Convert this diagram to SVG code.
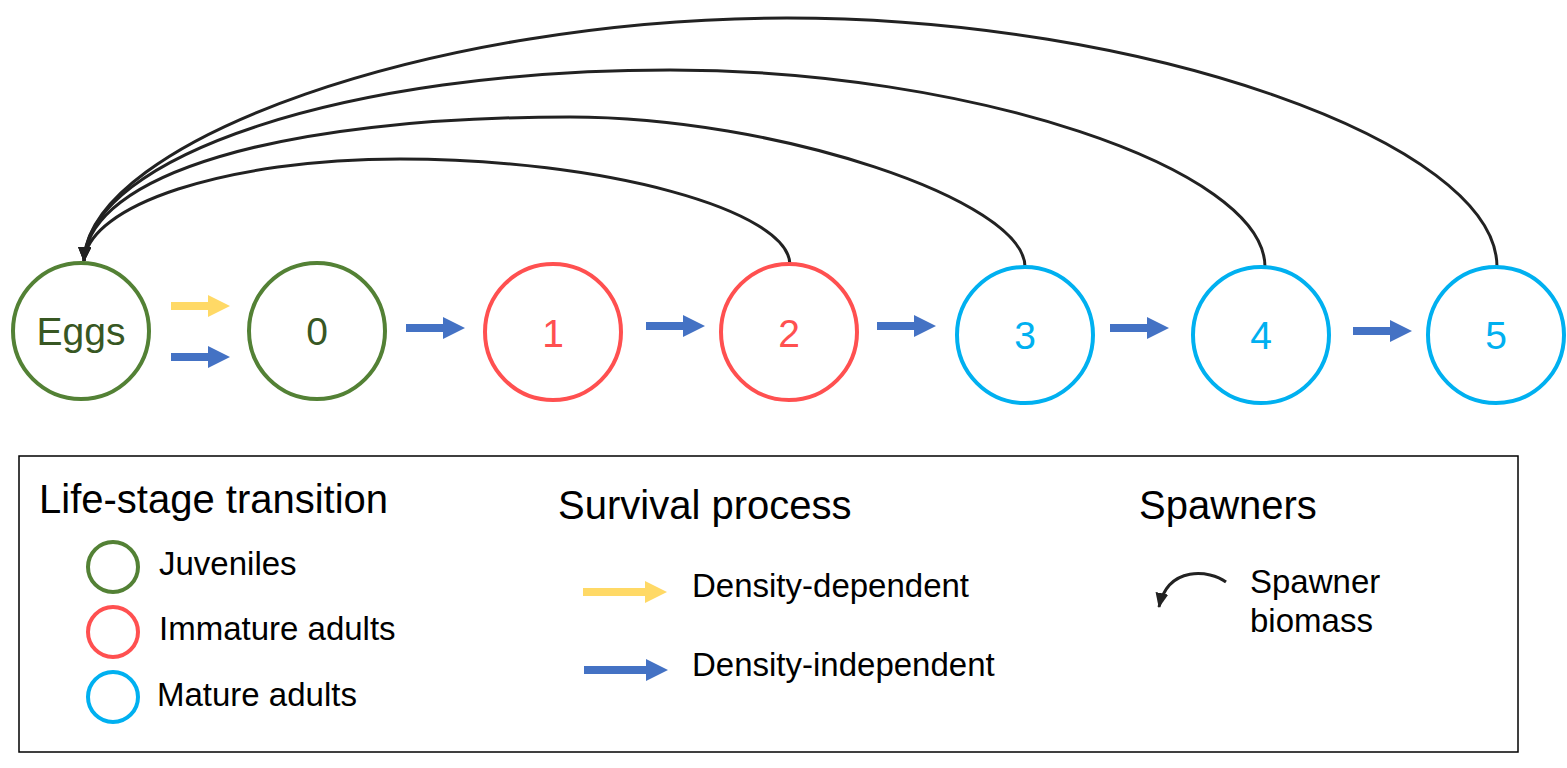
<svg xmlns="http://www.w3.org/2000/svg" width="1567" height="768" viewBox="0 0 1567 768">
<style>
text{font-family:"Liberation Sans",Arial,sans-serif;}
.node{fill:#fff;stroke-width:4;}
.g{stroke:#538135;}
.r{stroke:#FF5050;}
.b{stroke:#00B0F0;}
.nt{font-size:39px;text-anchor:middle;}
.spawn{fill:none;stroke:#222;stroke-width:3;marker-end:url(#ah);}
.title{font-size:40px;fill:#000;}
.item{font-size:33px;fill:#000;}
.yel{fill:#FFD966;}
.blu{fill:#4472C4;}
</style>
<defs>
<marker id="ah" markerUnits="userSpaceOnUse" markerWidth="16" markerHeight="14" refX="14" refY="6.5" orient="auto" viewBox="0 0 16 14">
<path d="M0,0 L15,6.5 L0,13 z" fill="#222"/>
</marker>
<path id="arr" d="M0,-4 L37,-4 L37,-11 L59,0 L37,11 L37,4 L0,4 z"/>
<path id="arrL" d="M0,-4 L62,-4 L62,-11 L84,0 L62,11 L62,4 L0,4 z"/>
</defs>

<g id="connectors">
<path class="spawn" d="M790,265 C790,210 603,159 400,159 C226,159 88,205 84,261"/>
<path class="spawn" d="M1025,267 C1025,200 775,117 570,117 C278,117 88,175 84,261"/>
<path class="spawn" d="M1265,267 C1265,168 968,70 670,70 C347,70 88,156 84,261"/>
<path class="spawn" d="M1497,267 C1497,142 1142,18 787,18 C436,18 88,140 84,261"/>
<use href="#arr" class="yel" x="171" y="306"/>
<use href="#arr" class="blu" x="171" y="357"/>
<use href="#arr" class="blu" x="406" y="328"/>
<use href="#arr" class="blu" x="646" y="326"/>
<use href="#arr" class="blu" x="877" y="326"/>
<use href="#arr" class="blu" x="1110" y="328"/>
<use href="#arr" class="blu" x="1353" y="331"/>
</g>

<g id="node-eggs">
<circle class="node g" cx="81" cy="331" r="68"/>
<text class="nt" x="81" y="345" fill="#385723">Eggs</text>
</g>
<g id="node-0">
<circle class="node g" cx="317" cy="331" r="68"/>
<text class="nt" x="317" y="345" fill="#385723">0</text>
</g>
<g id="node-1">
<circle class="node r" cx="553" cy="332" r="68"/>
<text class="nt" x="553" y="347" fill="#FF5050">1</text>
</g>
<g id="node-2">
<circle class="node r" cx="789" cy="332" r="68"/>
<text class="nt" x="789" y="347" fill="#FF5050">2</text>
</g>
<g id="node-3">
<circle class="node b" cx="1025" cy="335" r="68"/>
<text class="nt" x="1025" y="349" fill="#00B0F0">3</text>
</g>
<g id="node-4">
<circle class="node b" cx="1261" cy="335" r="68"/>
<text class="nt" x="1261" y="349" fill="#00B0F0">4</text>
</g>
<g id="node-5">
<circle class="node b" cx="1496" cy="335" r="68"/>
<text class="nt" x="1496" y="349" fill="#00B0F0">5</text>
</g>

<g id="legend">
<rect x="19" y="456" width="1499" height="296" fill="none" stroke="#000" stroke-width="1.5"/>
<text class="title" x="39" y="513">Life-stage transition</text>
<circle class="node g" cx="113" cy="567" r="25"/>
<text class="item" x="159" y="575">Juveniles</text>
<circle class="node r" cx="113" cy="632" r="25"/>
<text class="item" x="159" y="640">Immature adults</text>
<circle class="node b" cx="113" cy="697" r="25"/>
<text class="item" x="157" y="706">Mature adults</text>

<text class="title" x="558" y="519">Survival process</text>
<use href="#arrL" class="yel" x="583" y="592"/>
<text class="item" x="692" y="597">Density-dependent</text>
<use href="#arrL" class="blu" x="584" y="670"/>
<text class="item" x="692" y="676">Density-independent</text>

<text class="title" x="1139" y="519">Spawners</text>
<path class="spawn" d="M1226,582 C1210,570 1168,565 1159,607"/>
<text class="item" x="1250" y="593">Spawner</text>
<text class="item" x="1250" y="632">biomass</text>
</g>
</svg>
